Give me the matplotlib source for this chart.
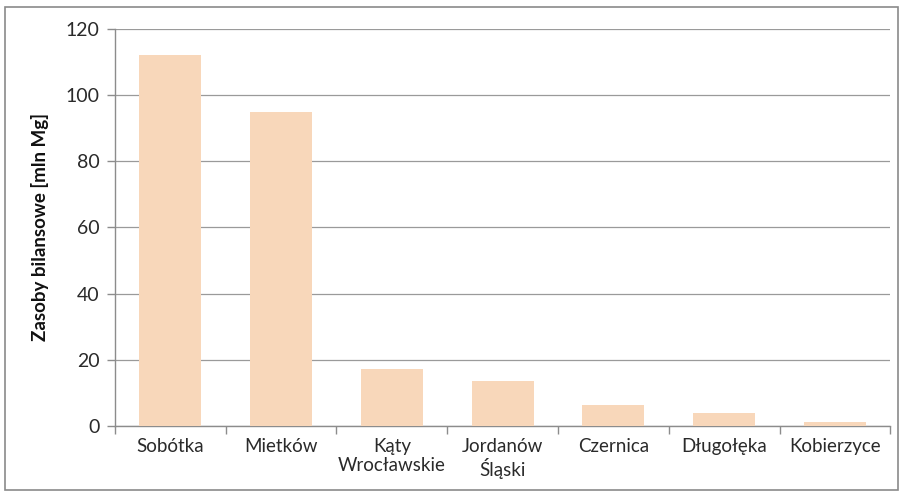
import matplotlib.pyplot as plt
import numpy as np
from matplotlib.patches import Rectangle

plt.rcParams['font.family'] = ['Lato', 'DejaVu Sans']

gminy = ["Sobótka", "Mietków", "Kąty\nWrocławskie", "Jordanów\nŚląski",
         "Czernica", "Długołęka", "Kobierzyce"]
zasoby = [112.1, 95.0, 17.1, 13.6, 6.3, 3.8, 1.2]
y_ticks = [0, 20, 40, 60, 80, 100, 120]

fig = plt.figure(figsize=(9.04, 4.94), dpi=100)
ax = fig.add_axes([0.127, 0.138, 0.858, 0.803])

x = np.arange(len(gminy))
ax.bar(x, zasoby, width=0.56, color="#F8D7BA", zorder=3)

ax.set_xlim(-0.5, len(gminy) - 0.5)
ax.set_ylim(0, 120)
ax.set_yticks(y_ticks)
ax.yaxis.grid(True, color="#9a9a9a", linewidth=0.9, zorder=0)

# category boundaries get the tick marks, names sit between them
ax.set_xticks(np.arange(len(gminy) + 1) - 0.5)
ax.set_xticklabels([])
ax.set_xticks(x, minor=True)
ax.set_xticklabels(gminy, minor=True, fontsize=13.5, color="#2a2a2a",
                   linespacing=1.15)
ax.tick_params(axis="x", which="minor", length=0, pad=9)
ax.tick_params(axis="x", which="major", length=6, color="#8c8c8c", width=1)
ax.tick_params(axis="y", length=6, color="#8c8c8c", width=1,
               labelsize=14, labelcolor="#2a2a2a", pad=5)

for side in ("top", "right"):
    ax.spines[side].set_visible(False)
for side in ("left", "bottom"):
    ax.spines[side].set_color("#8c8c8c")
    ax.spines[side].set_linewidth(1)

ax.set_ylabel("Zasoby bilansowe [mln Mg]", fontsize=13.5, fontweight="bold",
              color="#111111", labelpad=12)

fig.patches.append(Rectangle((0.006, 0.008), 0.987, 0.978, transform=fig.transFigure,
                             fill=False, edgecolor="#8a8a8a", linewidth=1.2))

fig.savefig("out.png", dpi=100)
